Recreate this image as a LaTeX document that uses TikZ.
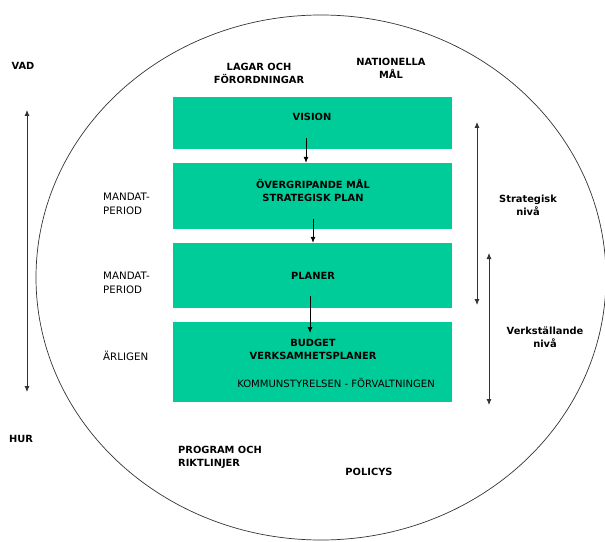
\documentclass[tikz,border=0pt]{standalone}
\usepackage{fontspec}
\setmainfont{DejaVu Sans}
\usetikzlibrary{arrows.meta}
\definecolor{boxgreen}{RGB}{0,204,153}
\tikzset{
  stage/.style={fill=boxgreen, draw=none, minimum width=279bp, inner sep=0pt},
  lbl/.style={font=\fontsize{9.9}{13}\selectfont\bfseries, align=center, inner sep=0pt},
  period/.style={font=\fontsize{10.3}{14}\selectfont, align=left, anchor=west, inner sep=0pt},
  flow/.style={-{Latex[length=6bp,width=5bp]}, line width=0.8bp},
  span/.style={{Latex[length=6bp,width=5bp]}-{Latex[length=6bp,width=5bp]}, line width=0.8bp, black!80}
}
\begin{document}
\begin{tikzpicture}[x=1bp,y=-1bp]
    \useasboundingbox (0,0) rectangle (605,542);

    % Outer ellipse
    \draw[line width=0.7bp, black!80] (321,277.5) ellipse [x radius=285, y radius=262.5];

    % Stage boxes
    \node[stage, minimum height=52bp] (vision) at (312.5,123) {};
    \node[stage, minimum height=66bp] (overgrip) at (312.5,196) {};
    \node[stage, minimum height=65bp] (planer) at (312.5,275.5) {};
    \node[stage, minimum height=80bp] (budget) at (312.5,362) {};

    % Box texts
    \node[lbl] (visiontxt) at (312,117) {VISION};
    \node[lbl] (malltxt) at (313,190.5) {ÖVERGRIPANDE MÅL\\STRATEGISK PLAN};
    \node[lbl] (planertxt) at (313,276) {PLANER};
    \node[lbl] (budgettxt) at (313,349.5) {BUDGET\\VERKSAMHETSPLANER};
    \node[font=\fontsize{10.1}{12}\selectfont, inner sep=0pt] (styr) at (336,383) {KOMMUNSTYRELSEN - FÖRVALTNINGEN};

    % Arrows between the boxes
    \coordinate (pil1) at (306,138);
    \coordinate (pil2) at (313,219);
    \coordinate (pil3) at (310,296);
    \coordinate (pil3end) at (310,333);
    \draw[flow] (pil1) -- (overgrip.north -| pil1);
    \draw[flow] (pil2) -- (planer.north -| pil2);
    \draw[flow] (pil3) -- (pil3end);

    % What / how
    \node[lbl] (vad) at (23,66) {VAD};
    \node[lbl] (hur) at (21,439) {HUR};
    \coordinate (vadpil) at (27,110);
    \coordinate (hurpil) at (27,392);
    \draw[span] (vadpil) -- (hurpil);

    % Periods
    \node[period] (mandat1) at (103,203.5) {MANDAT-\\PERIOD};
    \node[period] (mandat2) at (103,282.5) {MANDAT-\\PERIOD};
    \node[period] (arligen) at (103,356) {ÄRLIGEN};

    % Levels
    \coordinate (strtop) at (477,122);
    \coordinate (strbot) at (477,305);
    \coordinate (vertop) at (489,253);
    \coordinate (verbot) at (489,405);
    \draw[span] (strtop) -- (strbot);
    \draw[span] (vertop) -- (verbot);
    \node[lbl] (strategisk) at (528,205) {Strategisk\\nivå};
    \node[lbl] (verkst) at (545,337) {Verkställande\\nivå};

    % Surrounding texts
    \node[lbl] (lagar) at (259,73) {LAGAR OCH\\FÖRORDNINGAR};
    \node[lbl] (nationella) at (391,68.5) {NATIONELLA\\MÅL};
    \node[lbl, align=left, anchor=west] (program) at (178,457) {PROGRAM OCH\\RIKTLINJER};
    \node[lbl] (policys) at (369,472) {POLICYS};
\end{tikzpicture}
\end{document}
